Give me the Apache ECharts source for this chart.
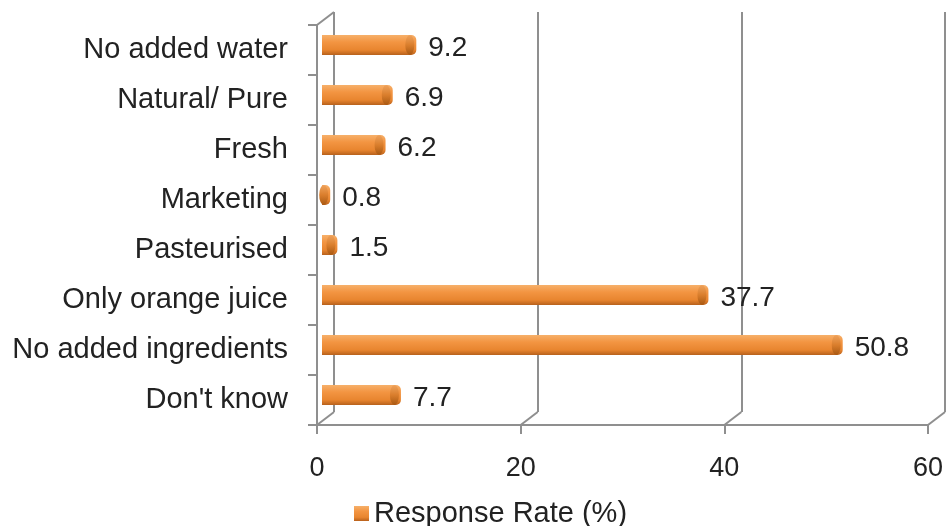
<!DOCTYPE html>
<html>
<head>
<meta charset="utf-8">
<script src="https://cdn.jsdelivr.net/npm/echarts@6/dist/echarts.min.js"></script>
<style>html,body{margin:0;padding:0;background:#fff}#c{width:948px;height:526px}</style>
</head>
<body>
<div id="c"></div>
<script>
const categories = ["No added water","Natural/ Pure","Fresh","Marketing","Pasteurised","Only orange juice","No added ingredients","Don't know"];
const values = [9.2, 6.9, 6.2, 0.8, 1.5, 37.7, 50.8, 7.7];
const xTicks = [0, 20, 40, 60];
const seriesName = "Response Rate (%)";

const FONT = "Liberation Sans, Arial, sans-serif";
const AX = "#8f8f8f";
// layout
const F = {left: 317, right: 20, top: 25, bottom: 101};
const back = {dx: 17, dy: 13};
const mid = {dx: 5, dy: 5};

const chart = echarts.init(document.getElementById('c'));
const barGrad = new echarts.graphic.LinearGradient(0,0,0,1,[
  {offset:0, color:'#f6b06a'},
  {offset:0.35, color:'#f39542'},
  {offset:0.75, color:'#e8852f'},
  {offset:1, color:'#b8611c'}
]);
const capGrad = new echarts.graphic.LinearGradient(0,0,0,1,[
  {offset:0, color:'#eea25c'},
  {offset:0.5, color:'#da7e2c'},
  {offset:1, color:'#a85812'}
]);
chart.setOption({
  animation: false,
  backgroundColor: '#fff',
  legend: {
    data: [seriesName],
    left: 349, top: 494,
    itemWidth: 15, itemHeight: 15, itemGap: 6,
    icon: 'rect',
    textStyle: {fontFamily: FONT, fontSize: 29, color: '#222'}
  },
  grid: [
    {left: F.left, right: F.right, top: F.top, bottom: F.bottom},
    {left: F.left + back.dx, right: F.right - back.dx, top: F.top - back.dy, bottom: F.bottom + back.dy},
    {left: F.left + mid.dx, right: F.right - mid.dx - 4, top: F.top - mid.dy, bottom: F.bottom + mid.dy}
  ],
  xAxis: [
    {gridIndex: 0, type: 'value', min: 0, max: 60, interval: 20,
     axisLine: {show: true, lineStyle: {color: AX, width: 2}},
     axisTick: {show: true, length: 9, lineStyle: {color: AX, width: 2}},
     splitLine: {show: false},
     axisLabel: {fontFamily: FONT, fontSize: 27, color: '#222', margin: 30}},
    {gridIndex: 1, type: 'value', min: 0, max: 60, interval: 20,
     axisLine: {show: false}, axisTick: {show: false}, axisLabel: {show: false},
     splitLine: {show: true, lineStyle: {color: AX, width: 2}}},
    {gridIndex: 2, type: 'value', min: 0, max: 60, interval: 20, show: false}
  ],
  yAxis: [
    {gridIndex: 0, type: 'category', data: categories, inverse: true,
     axisLine: {show: true, lineStyle: {color: AX, width: 2}},
     axisTick: {show: true, length: 9, lineStyle: {color: AX, width: 2}},
     axisLabel: {fontFamily: FONT, fontSize: 29, color: '#222', margin: 29}},
    {gridIndex: 1, type: 'category', data: categories, inverse: true, show: false},
    {gridIndex: 2, type: 'category', data: categories, inverse: true, show: false}
  ],
  series: [
    {name: seriesName, type: 'bar', xAxisIndex: 2, yAxisIndex: 2, data: values,
     barWidth: 20, itemStyle: {color: barGrad, borderRadius: [0, 5, 5, 0]},
     label: {show: true, position: 'right', distance: 12, offset: [0, 3], fontFamily: FONT, fontSize: 28, color: '#222'}},
    {name: 'cap', type: 'pictorialBar', xAxisIndex: 2, yAxisIndex: 2, data: values,
     symbol: 'circle', symbolSize: [9, 20], symbolPosition: 'end', symbolOffset: [-2, 0],
     itemStyle: {color: capGrad}, z: 3, silent: true}
  ]
});
// back-wall connectors (derived from axis scales)
const W = 948, H = 526;
const yFront = H - F.bottom, yBack = H - F.bottom - back.dy;
const g = [];
xTicks.forEach(v => {
  const x = chart.convertToPixel({xAxisIndex: 0}, v);
  g.push({type: 'line', shape: {x1: x, y1: yFront, x2: x + back.dx, y2: yBack}, style: {stroke: AX, lineWidth: 2}, z: 1});
});
const x0 = chart.convertToPixel({xAxisIndex: 0}, 0);
g.push({type: 'line', shape: {x1: x0, y1: F.top, x2: x0 + back.dx, y2: F.top - back.dy}, style: {stroke: AX, lineWidth: 2}, z: 1});
chart.setOption({graphic: g});
</script>
</body>
</html>
